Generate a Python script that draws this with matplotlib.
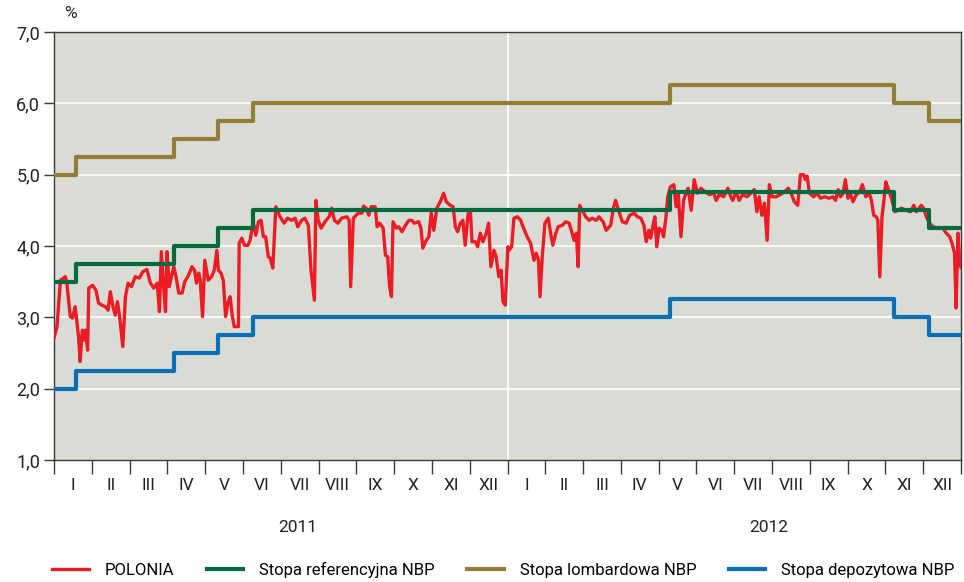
import matplotlib
matplotlib.use("Agg")
import matplotlib.pyplot as plt
import matplotlib.transforms as mtransforms

plt.rcParams['font.family'] = ['Roboto', 'DejaVu Sans']

# time axis in months since 1 Jan 2011 (0 .. 24)
month_labels = ["I", "II", "III", "IV", "V", "VI", "VII", "VIII", "IX", "X", "XI", "XII"] * 2
years = ["2011", "2012"]

# NBP rate decisions (months since start) and levels after each change
rate_change_m = [0.0, 0.58, 3.17, 4.35, 5.27, 16.29, 22.23, 23.16, 24.0]
ref_rate = [3.50, 3.75, 4.00, 4.25, 4.50, 4.75, 4.50, 4.25, 4.25]
lombard_rate = [5.00, 5.25, 5.50, 5.75, 6.00, 6.25, 6.00, 5.75, 5.75]
deposit_rate = [2.00, 2.25, 2.50, 2.75, 3.00, 3.25, 3.00, 2.75, 2.75]

# POLONIA
polonia_m = [
    0.00, 0.08, 0.17, 0.30, 0.34, 0.43, 0.49, 0.56, 0.65, 0.69, 0.75, 0.80, 0.83, 0.89, 0.92,
    1.02, 1.11, 1.18, 1.27, 1.36, 1.43, 1.49, 1.56, 1.62, 1.68, 1.74, 1.82, 1.89, 1.96,
    2.05, 2.15, 2.26, 2.35, 2.46, 2.55, 2.64, 2.73, 2.79, 2.84, 2.90, 2.95, 2.99,
    3.05, 3.10, 3.17, 3.23, 3.30, 3.39, 3.46, 3.56, 3.65, 3.72, 3.77, 3.83, 3.87, 3.93, 3.99,
    4.08, 4.17, 4.24, 4.31, 4.35, 4.42, 4.48, 4.54, 4.60, 4.66, 4.72, 4.77, 4.88, 4.90, 4.97,
    5.04, 5.13, 5.19, 5.27, 5.34, 5.41, 5.48, 5.54, 5.60, 5.67, 5.72, 5.79, 5.87, 5.98,
    6.09, 6.18, 6.29, 6.38, 6.45, 6.55, 6.64, 6.73, 6.80, 6.89, 6.93, 6.99,
    7.07, 7.17, 7.28, 7.35, 7.42, 7.51, 7.61, 7.75, 7.81, 7.85, 7.92,
    8.05, 8.15, 8.19, 8.26, 8.33, 8.39, 8.50, 8.55, 8.62, 8.71, 8.77, 8.83, 8.88, 8.93, 8.97,
    9.06, 9.12, 9.21, 9.30, 9.39, 9.47, 9.53, 9.65, 9.71, 9.76, 9.85, 9.92, 9.98,
    10.05, 10.13, 10.22, 10.31, 10.38, 10.49, 10.56, 10.62, 10.68, 10.75, 10.82, 10.88, 10.96,
    11.02, 11.06, 11.15, 11.21, 11.28, 11.35, 11.44, 11.50, 11.56, 11.64, 11.70, 11.77, 11.83,
    11.88, 11.94, 12.01,
    12.04, 12.11, 12.17, 12.26, 12.35, 12.41, 12.52, 12.61, 12.70, 12.76, 12.82, 12.86, 12.92, 12.99,
    13.08, 13.14, 13.20, 13.28, 13.34, 13.45, 13.54, 13.63, 13.70, 13.76, 13.82, 13.87, 13.91, 13.98,
    14.07, 14.16, 14.24, 14.35, 14.42, 14.53, 14.61, 14.73, 14.80, 14.86, 14.95,
    15.04, 15.14, 15.23, 15.35, 15.44, 15.53, 15.61, 15.67, 15.74, 15.79, 15.85, 15.90, 15.95,
    16.01, 16.08, 16.13, 16.19, 16.24, 16.31, 16.40, 16.46, 16.52, 16.59, 16.66, 16.72, 16.78,
    16.86, 16.94, 17.03, 17.12, 17.23, 17.34, 17.46, 17.52, 17.61, 17.72, 17.83, 17.91, 17.96,
    18.05, 18.13, 18.22, 18.34, 18.43, 18.53, 18.60, 18.66, 18.73, 18.80, 18.87, 18.93,
    19.00, 19.11, 19.22, 19.33, 19.43, 19.52, 19.59, 19.68, 19.75, 19.84, 19.88, 19.93, 19.99,
    20.10, 20.19, 20.28, 20.39, 20.51, 20.61, 20.68, 20.75, 20.81, 20.88, 20.94,
    21.01, 21.07, 21.14, 21.23, 21.32, 21.39, 21.48, 21.57, 21.63, 21.69, 21.76, 21.80, 21.85,
    21.91, 21.96, 22.01, 22.07, 22.16, 22.25, 22.33, 22.42, 22.55, 22.66, 22.75, 22.82, 22.89,
    22.95, 23.01, 23.08, 23.17, 23.26, 23.39, 23.52, 23.61, 23.70, 23.76, 23.83, 23.87, 23.92,
    23.97, 24.00,
]
polonia = [
    2.71, 2.87, 3.52, 3.57, 3.48, 3.01, 2.99, 3.15, 2.73, 2.38, 2.82, 2.68, 2.82, 2.54, 3.41,
    3.45, 3.38, 3.20, 3.17, 3.15, 3.10, 3.36, 3.15, 3.03, 3.22, 2.99, 2.59, 3.29, 3.48,
    3.43, 3.57, 3.55, 3.64, 3.67, 3.48, 3.41, 3.48, 3.08, 3.92, 3.43, 3.08, 3.92,
    3.43, 3.55, 3.71, 3.57, 3.34, 3.34, 3.50, 3.59, 3.71, 3.66, 3.48, 3.62, 3.52, 3.01, 3.80,
    3.52, 3.57, 3.66, 3.94, 3.66, 3.62, 3.52, 3.01, 3.20, 3.29, 3.01, 2.87, 2.87, 4.04, 4.11,
    4.01, 4.01, 4.08, 4.34, 4.15, 4.34, 4.36, 4.13, 4.13, 3.85, 3.83, 3.69, 4.55, 4.41,
    4.32, 4.39, 4.36, 4.39, 4.27, 4.36, 4.39, 4.29, 3.66, 3.24, 4.64, 4.36,
    4.25, 4.34, 4.41, 4.53, 4.36, 4.32, 4.39, 4.41, 4.36, 3.43, 4.39,
    4.46, 4.46, 4.56, 4.53, 4.43, 4.55, 4.55, 4.27, 4.32, 4.25, 3.87, 3.85, 3.43, 3.29, 4.34,
    4.25, 4.27, 4.20, 4.29, 4.36, 4.36, 4.32, 4.34, 4.25, 3.97, 4.08, 4.13, 4.46,
    4.22, 4.53, 4.62, 4.74, 4.62, 4.57, 4.55, 4.27, 4.20, 4.32, 4.36, 4.01, 4.46,
    4.48, 4.06, 4.06, 3.99, 4.18, 4.06, 4.18, 4.32, 3.71, 3.94, 3.85, 3.57, 3.66,
    3.22, 3.17, 3.99,
    3.94, 3.99, 4.39, 4.41, 4.36, 4.27, 4.13, 4.04, 3.80, 3.90, 3.80, 3.29, 3.85, 4.32,
    4.39, 4.18, 4.01, 4.18, 4.27, 4.29, 4.34, 4.32, 4.20, 4.08, 4.18, 3.71, 4.57, 4.50,
    4.41, 4.36, 4.39, 4.36, 4.41, 4.34, 4.22, 4.29, 4.53, 4.64, 4.48,
    4.34, 4.32, 4.43, 4.46, 4.41, 4.39, 4.29, 4.06, 4.22, 4.11, 4.29, 4.41, 3.99,
    4.25, 4.22, 4.13, 4.39, 4.69, 4.83, 4.86, 4.55, 4.72, 4.13, 4.64, 4.74, 4.81,
    4.50, 4.93, 4.74, 4.81, 4.76, 4.72, 4.74, 4.64, 4.72, 4.69, 4.81, 4.69, 4.64,
    4.76, 4.64, 4.72, 4.69, 4.74, 4.79, 4.48, 4.69, 4.43, 4.60, 4.08, 4.86,
    4.69, 4.69, 4.72, 4.76, 4.81, 4.72, 4.62, 4.57, 5.00, 5.00, 4.93, 4.98, 4.74,
    4.69, 4.74, 4.67, 4.69, 4.67, 4.69, 4.64, 4.79, 4.69, 4.74, 4.93,
    4.67, 4.74, 4.62, 4.72, 4.76, 4.86, 4.69, 4.74, 4.64, 4.43, 4.41, 4.36, 3.57,
    4.41, 4.64, 4.90, 4.81, 4.67, 4.48, 4.50, 4.53, 4.50, 4.48, 4.57, 4.48, 4.53,
    4.57, 4.53, 4.41, 4.32, 4.27, 4.25, 4.25, 4.18, 4.13, 4.04, 3.90, 3.13, 4.18,
    3.76, 3.70,
]

c_red = "#ed1c24"
c_green = "#05693f"
c_olive = "#927d39"
c_blue = "#0b6fb8"

fig = plt.figure(figsize=(9.64, 5.82), dpi=100)
ax = fig.add_axes([54 / 964, 1 - 460 / 582, 907 / 964, 428 / 582])
ax.set_facecolor("#d8dcd5")

for y in [2, 3, 4, 5, 6]:
    ax.axhline(y, color="white", lw=1.2, zorder=1)
ax.axvline(12, color="white", lw=1.2, zorder=1)

ax.plot(polonia_m, polonia, color=c_red, lw=2.4, label="POLONIA", zorder=3)
ax.step(rate_change_m, ref_rate, where="post", color=c_green, lw=3.0,
        label="Stopa referencyjna NBP", zorder=4)
ax.step(rate_change_m, lombard_rate, where="post", color=c_olive, lw=3.0,
        label="Stopa lombardowa NBP", zorder=4)
ax.step(rate_change_m, deposit_rate, where="post", color=c_blue, lw=3.0,
        label="Stopa depozytowa NBP", zorder=4)

ax.set_xlim(0, 24)
ax.set_ylim(1, 7)

for s in ax.spines.values():
    s.set_color("#3a3a3a")
    s.set_linewidth(1.0)

ax.set_yticks([1, 2, 3, 4, 5, 6, 7])
ax.set_yticklabels(["1,0", "2,0", "3,0", "4,0", "5,0", "6,0", "7,0"])
ax.tick_params(axis="y", direction="out", length=7, width=1, color="#3a3a3a",
               labelsize=13, labelcolor="#222222", pad=3)

ax.set_xticks(range(25))
ax.set_xticklabels([])
ax.tick_params(axis="x", which="major", direction="out", length=10, width=1, color="#3a3a3a")
ax.set_xticks([i + 0.5 for i in range(24)], minor=True)
ax.set_xticklabels(month_labels, minor=True)
ax.tick_params(axis="x", which="minor", length=0, labelsize=12.5, labelcolor="#222222", pad=13)

trans = mtransforms.blended_transform_factory(ax.transData, fig.transFigure)
ax.text(6.44, 1 - 528 / 582, years[0], transform=trans, ha="center", va="center",
        fontsize=12.5, color="#222222")
ax.text(18.9, 1 - 528 / 582, years[1], transform=trans, ha="center", va="center",
        fontsize=12.5, color="#222222")
fig.text(70 / 964, 1 - 13 / 582, "%", ha="center", va="center", fontsize=12.5, color="#222222")

handles, labels = ax.get_legend_handles_labels()
fig.legend(handles, labels, loc="center left", bbox_to_anchor=(52 / 964, 1 - 570 / 582),
           ncol=4, frameon=False, fontsize=12, handlelength=2.2, handletextpad=0.95,
           columnspacing=1.95, borderaxespad=0, borderpad=0)

fig.savefig("out.png", dpi=100)
